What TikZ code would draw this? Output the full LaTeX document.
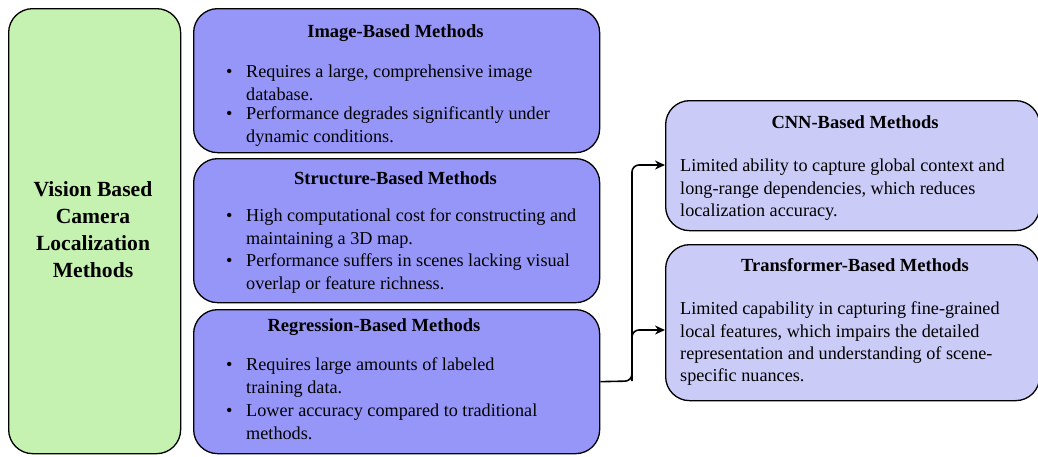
\documentclass[tikz,border=0pt]{standalone}
\usepackage{fontspec}
\setmainfont{Liberation Serif}
\usetikzlibrary{arrows.meta,calc}
\definecolor{greenfill}{HTML}{C5F2B0}
\definecolor{bluefill}{HTML}{9696F8}
\definecolor{lilacfill}{HTML}{CBCBF8}
\tikzset{
  box/.style={draw=black,line width=1.3pt,rounded corners=24pt,anchor=north west,inner sep=0pt},
  ttl/.style={font=\fontsize{18.5}{22}\selectfont\bfseries,anchor=base,inner sep=0pt},
  body/.style={font=\fontsize{18.2}{22.3}\selectfont,anchor=north west,align=left,inner sep=0pt},
  bul/.style={font=\fontsize{18.2}{22.3}\selectfont,anchor=north west,inner sep=0pt},
  conn/.style={draw=black,line width=1.6pt,rounded corners=7pt,-{Stealth[length=10pt,width=9pt]}},
}
\begin{document}
\begin{tikzpicture}[x=1pt,y=-1pt]
\useasboundingbox[fill=white] (0,0) rectangle (1038,456);
% left green box
\node[box,fill=greenfill,minimum width=172pt,minimum height=445pt] (vis) at (8,8) {};
\node[font=\fontsize{21.6}{27}\selectfont\bfseries,align=center,inner sep=0pt] (vist) at (93,230) {Vision Based\\Camera\\Localization\\Methods};
% image-based
\node[box,fill=bluefill,minimum width=406pt,minimum height=144pt] (img) at (193,8) {};
\node[ttl] (imgt) at (395.5,37) {Image-Based Methods};
\node[bul] (imgb1) at (226,62) {\strut\textbullet};
\node[body] (imgx1) at (246,62) {\strut Requires a large, comprehensive image\\database.};
\node[bul] (imgb2) at (226,104) {\strut\textbullet};
\node[body] (imgx2) at (246,104) {\strut Performance degrades significantly under\\dynamic conditions.};
% structure-based
\node[box,fill=bluefill,minimum width=406pt,minimum height=144pt] (str) at (193,158) {};
\node[ttl] (strt) at (395.5,184) {Structure-Based Methods};
\node[bul] (strb1) at (226,206) {\strut\textbullet};
\node[body] (strx1) at (246,206) {\strut High computational cost for constructing and\\maintaining a 3D map.};
\node[bul] (strb2) at (226,251) {\strut\textbullet};
\node[body] (strx2) at (246,251) {\strut Performance suffers in scenes lacking visual\\overlap or feature richness.};
% regression-based
\node[box,fill=bluefill,minimum width=406pt,minimum height=144pt] (reg) at (193,309) {};
\node[ttl] (regt) at (374,331) {Regression-Based Methods};
\node[bul] (regb1) at (226,355) {\strut\textbullet};
\node[body] (regx1) at (246,355) {\strut Requires large amounts of labeled\\training data.};
\node[bul] (regb2) at (226,401) {\strut\textbullet};
\node[body] (regx2) at (246,401) {\strut Lower accuracy compared to traditional\\methods.};
% CNN
\node[box,fill=lilacfill,minimum width=374pt,minimum height=130pt] (cnn) at (665,100) {};
\node[ttl] (cnnt) at (855,128) {CNN-Based Methods};
\node[body] (cnnx) at (680,156) {\strut Limited ability to capture global context and\\long-range dependencies, which reduces\\localization accuracy.};
% Transformer
\node[box,fill=lilacfill,minimum width=374pt,minimum height=156pt] (trf) at (665,244) {};
\node[ttl] (trft) at (855,271) {Transformer-Based Methods};
\node[body] (trfx) at (680,299) {\strut Limited capability in capturing fine-grained\\local features, which impairs the detailed\\representation and understanding of scene-\\specific nuances.};
% connectors
\coordinate (split) at (632,381);
\coordinate (cnnin) at (cnn.west |- 0,165);
\coordinate (trfin) at (trf.west |- 0,330);
\draw[conn] (reg.east) -- (split) |- (cnnin);
\draw[conn] (split) |- (trfin);
\end{tikzpicture}
\end{document}
